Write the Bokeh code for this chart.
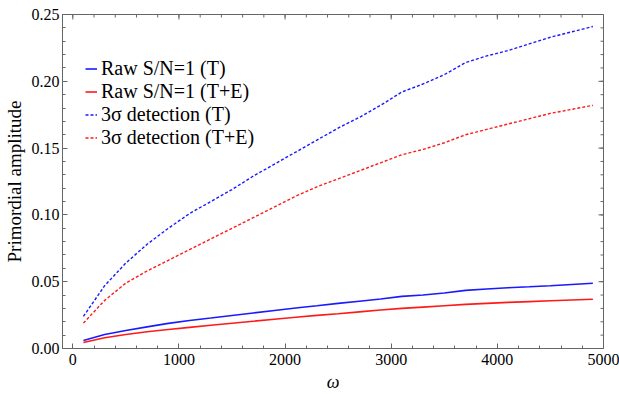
import math
from bokeh.plotting import figure
from bokeh.models import Range1d, FixedTicker, Legend
from bokeh.embed import file_html
from bokeh.resources import INLINE

omega = [100, 300, 500, 700, 900, 1100, 1300, 1500, 1700, 1900, 2100, 2300, 2500,
         2700, 2900, 3100, 3300, 3500, 3700, 3900, 4100, 4300, 4500, 4700, 4900]

raw_T = [0.0060, 0.0105, 0.0135, 0.0162, 0.0188, 0.0210, 0.0228, 0.0247, 0.0266, 0.0285,
         0.0303, 0.0320, 0.0338, 0.0354, 0.0370, 0.0390, 0.0400, 0.0415, 0.0435, 0.0445,
         0.0455, 0.0462, 0.0470, 0.0479, 0.0488]

raw_TE = [0.0045, 0.0080, 0.0105, 0.0125, 0.0142, 0.0158, 0.0174, 0.0189, 0.0204, 0.0219,
          0.0234, 0.0248, 0.0260, 0.0274, 0.0288, 0.0300, 0.0310, 0.0320, 0.0330, 0.0338,
          0.0345, 0.0351, 0.0357, 0.0363, 0.0369]

det_T = [0.024, 0.047, 0.064, 0.078, 0.090, 0.101, 0.110, 0.119, 0.129, 0.138, 0.147,
         0.156, 0.165, 0.173, 0.182, 0.192, 0.198, 0.205, 0.214, 0.219, 0.223, 0.228,
         0.233, 0.237, 0.241]

det_TE = [0.019, 0.036, 0.049, 0.058, 0.066, 0.074, 0.082, 0.090, 0.098, 0.106, 0.114,
          0.121, 0.127, 0.133, 0.139, 0.145, 0.149, 0.154, 0.160, 0.164, 0.168, 0.172,
          0.176, 0.179, 0.182]

x_ticks = [0, 1000, 2000, 3000, 4000, 5000]
x_minor = list(range(0, 5001, 200))
y_ticks = [0.0, 0.05, 0.10, 0.15, 0.20, 0.25]
y_tick_labels = ["0.00", "0.05", "0.10", "0.15", "0.20", "0.25"]
y_minor = [i / 100 for i in range(0, 26)]

series_labels = ["Raw S/N=1 (T)", "Raw S/N=1 (T+E)", "3σ detection (T)", "3σ detection (T+E)"]

FONT = "Liberation Serif"
FRAME = "#666666"
X0, X1 = -97, 5000
Y0, Y1 = 0.0, 0.25

p = figure(width=619, height=394, output_backend="svg", toolbar_location=None,
           x_range=Range1d(X0, X1), y_range=Range1d(Y0, Y1),
           min_border_left=62, min_border_right=16, min_border_top=14, min_border_bottom=46,
           background_fill_color="white", border_fill_color="white")
p.outline_line_color = FRAME
p.grid.visible = False

xt = FixedTicker(ticks=x_ticks, minor_ticks=x_minor)
yt = FixedTicker(ticks=y_ticks, minor_ticks=y_minor)

for ax in (p.xaxis[0], p.yaxis[0]):
    ax.axis_line_color = FRAME
    ax.major_tick_line_color = FRAME
    ax.minor_tick_line_color = FRAME
    ax.major_tick_in = 5
    ax.major_tick_out = 0
    ax.minor_tick_in = 3
    ax.minor_tick_out = 0
    ax.major_label_text_font = FONT
    ax.major_label_text_color = "black"
    ax.major_label_text_font_size = "16px"

p.xaxis.ticker = xt
p.yaxis.ticker = yt
p.yaxis.major_label_overrides = {t: s for t, s in zip(y_ticks, y_tick_labels)}
p.xaxis.major_label_standoff = 5
p.yaxis.major_label_standoff = 3

p.xaxis.axis_label = "ω"
p.xaxis.axis_label_text_font = FONT
p.xaxis.axis_label_text_font_style = "italic"
p.xaxis.axis_label_text_font_size = "18px"
p.xaxis.axis_label_text_color = "black"
p.xaxis.axis_label_standoff = 4

p.yaxis.axis_label = "Primordial amplitude"
p.yaxis.axis_label_text_font = FONT
p.yaxis.axis_label_text_font_style = "normal"
p.yaxis.axis_label_text_font_size = "19px"
p.yaxis.axis_label_text_color = "black"
p.yaxis.axis_label_standoff = 4

# frame ticks on the top and right edges (no labels there)
p.ray(x=x_ticks, y=[Y1] * len(x_ticks), length=5, length_units="screen",
      angle=-math.pi / 2, line_color=FRAME, line_width=1)
p.ray(x=x_minor, y=[Y1] * len(x_minor), length=3, length_units="screen",
      angle=-math.pi / 2, line_color=FRAME, line_width=1)
p.ray(x=[X1] * len(y_ticks), y=y_ticks, length=5, length_units="screen",
      angle=math.pi, line_color=FRAME, line_width=1)
p.ray(x=[X1] * len(y_minor), y=y_minor, length=3, length_units="screen",
      angle=math.pi, line_color=FRAME, line_width=1)

r1 = p.line(omega, raw_T, line_color="#1a1aff", line_width=1.6)
r2 = p.line(omega, raw_TE, line_color="#ff1a1a", line_width=1.6)
r3 = p.line(omega, det_T, line_color="#1a1aff", line_width=1.4, line_dash="3 2")
r4 = p.line(omega, det_TE, line_color="#ff1a1a", line_width=1.4, line_dash="3 2")

legend = Legend(items=[(lab, [r]) for lab, r in zip(series_labels, [r1, r2, r3, r4])],
                location=(23, 199))
legend.border_line_color = None
legend.background_fill_alpha = 0
legend.label_text_font = FONT
legend.label_text_font_size = "20px"
legend.label_text_color = "black"
legend.glyph_width = 12
legend.glyph_height = 23
legend.label_height = 23
legend.label_standoff = 4
legend.padding = 0
legend.margin = 0
legend.spacing = 0
p.add_layout(legend)

open("out.html", "w").write(file_html(p, INLINE))
